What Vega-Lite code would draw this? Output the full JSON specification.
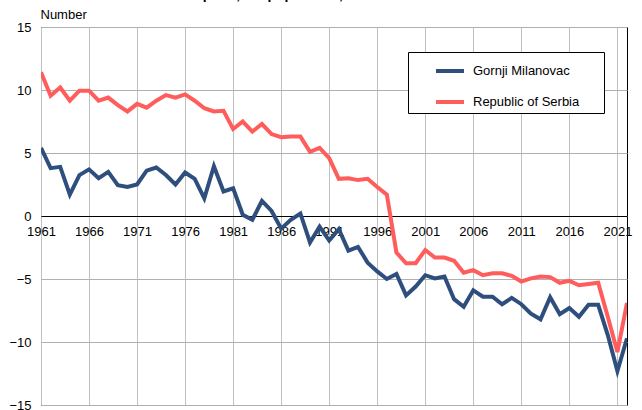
{
  "$schema": "https://vega.github.io/schema/vega-lite/v6.json",
  "width": 586,
  "height": 378,
  "autosize": {"type": "none"},
  "padding": {"left": 41, "top": 27, "right": 15, "bottom": 5},
  "background": "white",
  "title": {
    "text": "Natural increase per 1,000 population, 1961–2022",
    "anchor": "start",
    "frame": "group",
    "font": "Liberation Sans",
    "fontSize": 14,
    "fontWeight": "bold",
    "color": "#000",
    "baseline": "alphabetic",
    "dx": 49,
    "offset": -5
  },
  "config": {
    "font": "Liberation Sans",
    "view": {"stroke": "#000", "strokeWidth": 1}
  },
  "data": {
    "values": [
      {"year": 1961, "region": "Gornji Milanovac", "value": 5.4},
      {"year": 1962, "region": "Gornji Milanovac", "value": 3.8},
      {"year": 1963, "region": "Gornji Milanovac", "value": 3.9},
      {"year": 1964, "region": "Gornji Milanovac", "value": 1.7},
      {"year": 1965, "region": "Gornji Milanovac", "value": 3.25},
      {"year": 1966, "region": "Gornji Milanovac", "value": 3.7},
      {"year": 1967, "region": "Gornji Milanovac", "value": 3.0},
      {"year": 1968, "region": "Gornji Milanovac", "value": 3.5},
      {"year": 1969, "region": "Gornji Milanovac", "value": 2.45},
      {"year": 1970, "region": "Gornji Milanovac", "value": 2.3},
      {"year": 1971, "region": "Gornji Milanovac", "value": 2.5},
      {"year": 1972, "region": "Gornji Milanovac", "value": 3.6},
      {"year": 1973, "region": "Gornji Milanovac", "value": 3.85},
      {"year": 1974, "region": "Gornji Milanovac", "value": 3.25},
      {"year": 1975, "region": "Gornji Milanovac", "value": 2.5},
      {"year": 1976, "region": "Gornji Milanovac", "value": 3.45},
      {"year": 1977, "region": "Gornji Milanovac", "value": 2.95},
      {"year": 1978, "region": "Gornji Milanovac", "value": 1.4},
      {"year": 1979, "region": "Gornji Milanovac", "value": 3.95},
      {"year": 1980, "region": "Gornji Milanovac", "value": 1.95},
      {"year": 1981, "region": "Gornji Milanovac", "value": 2.2},
      {"year": 1982, "region": "Gornji Milanovac", "value": 0.1},
      {"year": 1983, "region": "Gornji Milanovac", "value": -0.3},
      {"year": 1984, "region": "Gornji Milanovac", "value": 1.2},
      {"year": 1985, "region": "Gornji Milanovac", "value": 0.4},
      {"year": 1986, "region": "Gornji Milanovac", "value": -1.0},
      {"year": 1987, "region": "Gornji Milanovac", "value": -0.3},
      {"year": 1988, "region": "Gornji Milanovac", "value": 0.2},
      {"year": 1989, "region": "Gornji Milanovac", "value": -2.1},
      {"year": 1990, "region": "Gornji Milanovac", "value": -0.85},
      {"year": 1991, "region": "Gornji Milanovac", "value": -1.95},
      {"year": 1992, "region": "Gornji Milanovac", "value": -1.05},
      {"year": 1993, "region": "Gornji Milanovac", "value": -2.75},
      {"year": 1994, "region": "Gornji Milanovac", "value": -2.45},
      {"year": 1995, "region": "Gornji Milanovac", "value": -3.7},
      {"year": 1996, "region": "Gornji Milanovac", "value": -4.4},
      {"year": 1997, "region": "Gornji Milanovac", "value": -5.0},
      {"year": 1998, "region": "Gornji Milanovac", "value": -4.6},
      {"year": 1999, "region": "Gornji Milanovac", "value": -6.3},
      {"year": 2000, "region": "Gornji Milanovac", "value": -5.6},
      {"year": 2001, "region": "Gornji Milanovac", "value": -4.7},
      {"year": 2002, "region": "Gornji Milanovac", "value": -4.95},
      {"year": 2003, "region": "Gornji Milanovac", "value": -4.8},
      {"year": 2004, "region": "Gornji Milanovac", "value": -6.6},
      {"year": 2005, "region": "Gornji Milanovac", "value": -7.2},
      {"year": 2006, "region": "Gornji Milanovac", "value": -5.9},
      {"year": 2007, "region": "Gornji Milanovac", "value": -6.4},
      {"year": 2008, "region": "Gornji Milanovac", "value": -6.4},
      {"year": 2009, "region": "Gornji Milanovac", "value": -7.0},
      {"year": 2010, "region": "Gornji Milanovac", "value": -6.5},
      {"year": 2011, "region": "Gornji Milanovac", "value": -7.0},
      {"year": 2012, "region": "Gornji Milanovac", "value": -7.75},
      {"year": 2013, "region": "Gornji Milanovac", "value": -8.2},
      {"year": 2014, "region": "Gornji Milanovac", "value": -6.45},
      {"year": 2015, "region": "Gornji Milanovac", "value": -7.8},
      {"year": 2016, "region": "Gornji Milanovac", "value": -7.3},
      {"year": 2017, "region": "Gornji Milanovac", "value": -8.0},
      {"year": 2018, "region": "Gornji Milanovac", "value": -7.05},
      {"year": 2019, "region": "Gornji Milanovac", "value": -7.05},
      {"year": 2020, "region": "Gornji Milanovac", "value": -9.45},
      {"year": 2021, "region": "Gornji Milanovac", "value": -12.3},
      {"year": 2022, "region": "Gornji Milanovac", "value": -9.7},
      {"year": 1961, "region": "Republic of Serbia", "value": 11.4},
      {"year": 1962, "region": "Republic of Serbia", "value": 9.55},
      {"year": 1963, "region": "Republic of Serbia", "value": 10.2},
      {"year": 1964, "region": "Republic of Serbia", "value": 9.15},
      {"year": 1965, "region": "Republic of Serbia", "value": 9.95},
      {"year": 1966, "region": "Republic of Serbia", "value": 9.95},
      {"year": 1967, "region": "Republic of Serbia", "value": 9.15},
      {"year": 1968, "region": "Republic of Serbia", "value": 9.4},
      {"year": 1969, "region": "Republic of Serbia", "value": 8.8},
      {"year": 1970, "region": "Republic of Serbia", "value": 8.3},
      {"year": 1971, "region": "Republic of Serbia", "value": 8.9},
      {"year": 1972, "region": "Republic of Serbia", "value": 8.6},
      {"year": 1973, "region": "Republic of Serbia", "value": 9.15},
      {"year": 1974, "region": "Republic of Serbia", "value": 9.6},
      {"year": 1975, "region": "Republic of Serbia", "value": 9.4},
      {"year": 1976, "region": "Republic of Serbia", "value": 9.65},
      {"year": 1977, "region": "Republic of Serbia", "value": 9.15},
      {"year": 1978, "region": "Republic of Serbia", "value": 8.55},
      {"year": 1979, "region": "Republic of Serbia", "value": 8.3},
      {"year": 1980, "region": "Republic of Serbia", "value": 8.35},
      {"year": 1981, "region": "Republic of Serbia", "value": 6.9},
      {"year": 1982, "region": "Republic of Serbia", "value": 7.5},
      {"year": 1983, "region": "Republic of Serbia", "value": 6.7},
      {"year": 1984, "region": "Republic of Serbia", "value": 7.3},
      {"year": 1985, "region": "Republic of Serbia", "value": 6.5},
      {"year": 1986, "region": "Republic of Serbia", "value": 6.25},
      {"year": 1987, "region": "Republic of Serbia", "value": 6.3},
      {"year": 1988, "region": "Republic of Serbia", "value": 6.3},
      {"year": 1989, "region": "Republic of Serbia", "value": 5.1},
      {"year": 1990, "region": "Republic of Serbia", "value": 5.4},
      {"year": 1991, "region": "Republic of Serbia", "value": 4.6},
      {"year": 1992, "region": "Republic of Serbia", "value": 2.95},
      {"year": 1993, "region": "Republic of Serbia", "value": 3.0},
      {"year": 1994, "region": "Republic of Serbia", "value": 2.85},
      {"year": 1995, "region": "Republic of Serbia", "value": 2.95},
      {"year": 1996, "region": "Republic of Serbia", "value": 2.3},
      {"year": 1997, "region": "Republic of Serbia", "value": 1.7},
      {"year": 1998, "region": "Republic of Serbia", "value": -2.9},
      {"year": 1999, "region": "Republic of Serbia", "value": -3.75},
      {"year": 2000, "region": "Republic of Serbia", "value": -3.75},
      {"year": 2001, "region": "Republic of Serbia", "value": -2.7},
      {"year": 2002, "region": "Republic of Serbia", "value": -3.3},
      {"year": 2003, "region": "Republic of Serbia", "value": -3.3},
      {"year": 2004, "region": "Republic of Serbia", "value": -3.55},
      {"year": 2005, "region": "Republic of Serbia", "value": -4.5},
      {"year": 2006, "region": "Republic of Serbia", "value": -4.3},
      {"year": 2007, "region": "Republic of Serbia", "value": -4.7},
      {"year": 2008, "region": "Republic of Serbia", "value": -4.55},
      {"year": 2009, "region": "Republic of Serbia", "value": -4.55},
      {"year": 2010, "region": "Republic of Serbia", "value": -4.75},
      {"year": 2011, "region": "Republic of Serbia", "value": -5.2},
      {"year": 2012, "region": "Republic of Serbia", "value": -4.95},
      {"year": 2013, "region": "Republic of Serbia", "value": -4.8},
      {"year": 2014, "region": "Republic of Serbia", "value": -4.85},
      {"year": 2015, "region": "Republic of Serbia", "value": -5.3},
      {"year": 2016, "region": "Republic of Serbia", "value": -5.15},
      {"year": 2017, "region": "Republic of Serbia", "value": -5.5},
      {"year": 2018, "region": "Republic of Serbia", "value": -5.4},
      {"year": 2019, "region": "Republic of Serbia", "value": -5.3},
      {"year": 2020, "region": "Republic of Serbia", "value": -8.0},
      {"year": 2021, "region": "Republic of Serbia", "value": -10.8},
      {"year": 2022, "region": "Republic of Serbia", "value": -6.9}
    ]
  },
  "mark": {"type": "line", "strokeWidth": 4, "strokeJoin": "miter", "clip": true},
  "encoding": {
    "x": {
      "field": "year",
      "type": "quantitative",
      "scale": {"domain": [1961, 2022], "nice": false, "zero": false},
      "axis": {
        "values": [1961, 1966, 1971, 1976, 1981, 1986, 1991, 1996, 2001, 2006, 2011, 2016, 2021],
        "format": "d",
        "title": null,
        "offset": -189,
        "grid": true,
        "gridColor": "#c0c0c0",
        "gridWidth": 1,
        "domain": true,
        "domainColor": "#000",
        "domainWidth": 1,
        "ticks": false,
        "tickSize": 0,
        "labelPadding": 9,
        "labelFont": "Liberation Sans",
        "labelFontSize": 13,
        "labelColor": "#000",
        "labelFlush": false,
        "labelOverlap": false,
        "labelBound": false
      }
    },
    "y": {
      "field": "value",
      "type": "quantitative",
      "scale": {"domain": [-15, 15], "nice": false},
      "axis": {
        "values": [-15, -10, -5, 0, 5, 10, 15],
        "title": "Number",
        "titleAngle": 0,
        "titleAlign": "left",
        "titleBaseline": "alphabetic",
        "titleX": -1,
        "titleY": -9,
        "titleFont": "Liberation Sans",
        "titleFontSize": 13,
        "titleFontWeight": "normal",
        "titleColor": "#000",
        "grid": true,
        "gridColor": "#b0b0b0",
        "gridWidth": 1,
        "domain": false,
        "ticks": false,
        "tickSize": 0,
        "labelPadding": 10,
        "labelFont": "Liberation Sans",
        "labelFontSize": 13,
        "labelColor": "#000",
        "labelOverlap": false,
        "labelBound": false,
        "labelFlush": false
      }
    },
    "color": {
      "field": "region",
      "type": "nominal",
      "scale": {"domain": ["Gornji Milanovac", "Republic of Serbia"], "range": ["#2e4f7e", "#ff5c5c"]},
      "legend": {
        "title": "\u00a0",
        "titleOrient": "right",
        "titlePadding": 22,
        "titleFontSize": 13,
        "orient": "none",
        "legendX": 367,
        "legendY": 25,
        "fillColor": "#fff",
        "strokeColor": "#000",
        "padding": 3,
        "symbolOffset": 23,
        "symbolType": "stroke",
        "symbolSize": 784,
        "symbolStrokeWidth": 4,
        "labelFont": "Liberation Sans",
        "labelFontSize": 13,
        "labelColor": "#000",
        "labelOffset": 7,
        "rowPadding": 7
      }
    }
  }
}
